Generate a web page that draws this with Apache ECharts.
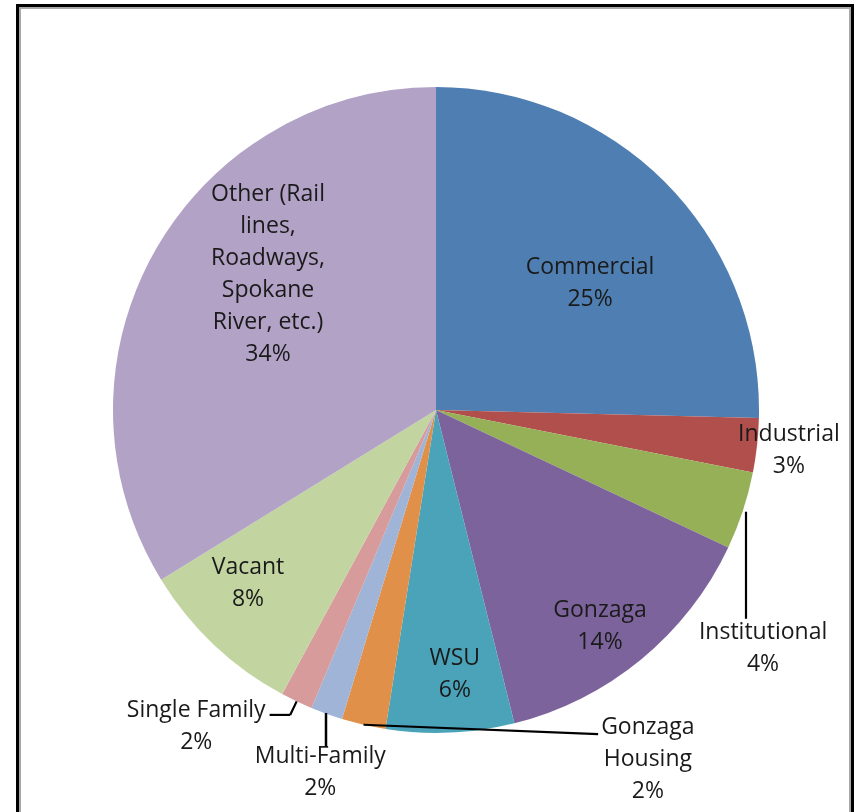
<!DOCTYPE html>
<html>
<head>
<meta charset="utf-8">
<script src="https://cdn.jsdelivr.net/npm/echarts@6/dist/echarts.min.js"></script>
<style>
html,body{margin:0;padding:0;background:#fff;}
#chart{width:858px;height:812px;}
</style>
</head>
<body>
<div id="chart"></div>
<script>
// ---- data ----
const categories = [
  'Commercial',
  'Industrial',
  'Institutional',
  'Gonzaga',
  'WSU',
  'Gonzaga\nHousing',
  'Multi-Family',
  'Single Family',
  'Vacant',
  'Other (Rail\nlines,\nRoadways,\nSpokane\nRiver, etc.)'
];
const shares = [25.4, 2.7, 3.9, 14.1, 6.4, 2.2, 1.6, 1.6, 8.3, 33.8];

// ---- styles / layout ----
const colors = ['#4f7fb2', '#b14f4c', '#95b056', '#7c639c', '#4aa3b9',
                '#e09048', '#a0b4d7', '#d69b9a', '#c2d4a0', '#b1a2c6'];
const CX = 436, CY = 410, R = 323;
// label placement: [angle in degrees clockwise from 3 o'clock, radius factor]
const labelPolar = [[-39.8, 0.621], [6.2, 1.099], [35.9, 1.25], [52.6, 0.836], [85.9, 0.815],
                    [58.6, 1.259], [107.8, 1.172], [127.3, 1.225], [137.7, 0.787], [219.4, 0.673]];
const LH = 32;

const total = shares.reduce((a, b) => a + b, 0);
const mids = [];
let acc = 0;
shares.forEach(v => { mids.push(-90 + (acc + v / 2) / total * 360); acc += v; });
const rad = d => d * Math.PI / 180;
const arc = (deg, r) => [CX + r * Math.cos(rad(deg)), CY + r * Math.sin(rad(deg))];
const labelCenter = i => { const p = arc(labelPolar[i][0], labelPolar[i][1] * R); p[1] += 2; return p; };

// Multi-Family leader (vertical, from slice edge down to its two-line label)
const mfStart = arc(mids[6], R - 1);
const mfX = Math.round(mfStart[0]) - 1;
const mfEndY = labelCenter(6)[1] - LH + 6;

const frame = [
  {id: 'f1', type: 'rect', shape: {x: 17.5, y: 5.5, width: 835, height: 900},
   style: {fill: null, stroke: '#000', lineWidth: 3}, z: 100},
  {id: 'f2', type: 'rect', shape: {x: 20, y: 8, width: 830, height: 900},
   style: {fill: null, stroke: '#a8a8a8', lineWidth: 2}, z: 100},
  {id: 'l6', type: 'polyline', shape: {points: [[mfX, mfStart[1]], [mfX, mfEndY]]}, z: 60,
   style: {fill: null, stroke: '#000', lineWidth: 2.5}}
];

const rects = {};
const chart = echarts.init(document.getElementById('chart'), null, {renderer: 'canvas'});
chart.setOption({
  backgroundColor: '#ffffff',
  animation: false,
  graphic: frame,
  series: [{
    type: 'pie',
    center: [CX, CY],
    radius: R,
    startAngle: 90,
    clockwise: true,
    avoidLabelOverlap: false,
    itemStyle: {borderWidth: 0},
    emphasis: {disabled: true},
    data: categories.map((name, i) => ({
      name: name,
      value: shares[i],
      itemStyle: {color: colors[i]}
    })),
    label: {
      show: true,
      position: 'outside',
      fontFamily: 'Open Sans',
      fontSize: 23,
      lineHeight: LH,
      color: '#1a1a1a',
      textBorderWidth: 0,
      align: 'center',
      formatter: p => p.name + '\n' + Math.round(p.value / total * 100) + '%'
    },
    labelLine: {show: false},
    labelLayout: function (p) {
      const i = p.dataIndex;
      const pos = labelCenter(i);
      const w = p.labelRect.width, h = p.labelRect.height;
      rects[i] = {top: pos[1] - h / 2, left: pos[0] - w / 2, right: pos[0] + w / 2};
      return {x: pos[0], y: pos[1], align: 'center', verticalAlign: 'middle'};
    }
  }]
});

function leaderLines() {
  const lines = [];
  const seg = (id, a, b) => lines.push({
    id: id, type: 'line', shape: {x1: a[0], y1: a[1], x2: b[0], y2: b[1]}, z: 60,
    style: {stroke: '#000', lineWidth: 2.2}
  });
  if (rects[2]) { const s = arc(mids[2], R + 3); const x = Math.round(s[0]); seg('l2', [x, s[1]], [x, rects[2].top + 2]); }
  if (rects[5]) { const s = arc(mids[5], R); seg('l5', s, [rects[5].left - 3, rects[5].top + LH / 2 + 7]); }
  if (rects[7]) {
    const s = arc(mids[7], R), b = arc(mids[7], R + 15);
    seg('l7a', s, b);
    seg('l7b', b, [rects[7].right + 4, b[1]]);
  }
  return lines;
}
chart.setOption({graphic: frame.concat(leaderLines())});
let done = false;
chart.on('finished', function () {
  if (done) return;
  done = true;
  chart.setOption({graphic: frame.concat(leaderLines())});
});
</script>
</body>
</html>
